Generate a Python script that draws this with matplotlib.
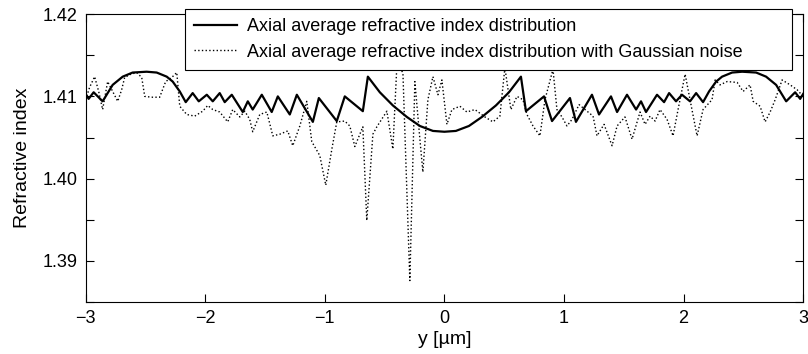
import matplotlib
matplotlib.use("Agg")
import matplotlib.pyplot as plt
from matplotlib.ticker import MultipleLocator, FormatStrFormatter

# Axial average refractive index (solid)
y_clean = [-3.000, -2.975, -2.933, -2.858, -2.774, -2.690, -2.607, -2.490, -2.406,
           -2.322, -2.272, -2.213, -2.163, -2.105, -2.054, -1.987, -1.937, -1.879,
           -1.837, -1.778, -1.686, -1.644, -1.603, -1.527, -1.444, -1.393, -1.293,
           -1.234, -1.100, -1.050, -0.900, -0.833, -0.682, -0.640, -0.540, -0.431,
           -0.314, -0.205, -0.096, 0.000, 0.096, 0.205, 0.314, 0.431, 0.540, 0.640,
           0.682, 0.833, 0.900, 1.050, 1.100, 1.234, 1.293, 1.393, 1.444, 1.527,
           1.603, 1.644, 1.686, 1.778, 1.837, 1.879, 1.937, 1.987, 2.054, 2.105,
           2.163, 2.213, 2.272, 2.322, 2.406, 2.490, 2.607, 2.690, 2.774, 2.858,
           2.933, 2.975, 3.000]
n_clean = [1.4103, 1.4097, 1.4105, 1.4094, 1.4114, 1.4124, 1.4129, 1.4130, 1.4129,
           1.4124, 1.4118, 1.4106, 1.4093, 1.4104, 1.4094, 1.4102, 1.4094, 1.4104,
           1.4093, 1.4102, 1.4081, 1.4094, 1.4084, 1.4102, 1.4081, 1.4100, 1.4078,
           1.4102, 1.4069, 1.4098, 1.4070, 1.4100, 1.4082, 1.4124, 1.4105, 1.4089,
           1.4075, 1.4064, 1.4058, 1.4057, 1.4058, 1.4064, 1.4075, 1.4089, 1.4105, 1.4124,
           1.4082, 1.4100, 1.4070, 1.4098, 1.4069, 1.4102, 1.4078, 1.4100, 1.4081, 1.4102,
           1.4084, 1.4094, 1.4081, 1.4102, 1.4093, 1.4104, 1.4094, 1.4102, 1.4094, 1.4104,
           1.4093, 1.4106, 1.4118, 1.4124, 1.4129, 1.4130, 1.4129, 1.4124, 1.4114, 1.4094,
           1.4105, 1.4097, 1.4103]

# Same profile with Gaussian noise (dotted)
y_noisy = [-3.000, -2.967, -2.925, -2.891, -2.858, -2.816, -2.774, -2.732, -2.699,
           -2.674, -2.623, -2.573, -2.531, -2.506, -2.448, -2.381, -2.331, -2.280,
           -2.238, -2.213, -2.155, -2.088, -2.021, -1.979, -1.937, -1.879, -1.812,
           -1.770, -1.711, -1.669, -1.628, -1.603, -1.544, -1.485, -1.435, -1.377,
           -1.310, -1.268, -1.209, -1.151, -1.109, -1.042, -0.992, -0.941, -0.900,
           -0.833, -0.791, -0.749, -0.682, -0.649, -0.598, -0.565, -0.481, -0.431,
           -0.397, -0.347, -0.289, -0.247, -0.205, -0.180, -0.138, -0.096, -0.054,
           -0.021, 0.021, 0.063, 0.130, 0.188, 0.255, 0.339, 0.406, 0.464, 0.506,
           0.556, 0.607, 0.657, 0.690, 0.741, 0.799, 0.841, 0.908, 0.941, 0.983,
           1.025, 1.067, 1.126, 1.176, 1.243, 1.276, 1.335, 1.402, 1.444, 1.510,
           1.569, 1.636, 1.678, 1.720, 1.762, 1.803, 1.862, 1.912, 1.954, 2.013,
           2.054, 2.113, 2.163, 2.238, 2.264, 2.305, 2.364, 2.448, 2.498, 2.556,
           2.582, 2.640, 2.682, 2.724, 2.766, 2.824, 2.891, 2.950, 3.000]
n_noisy = [1.4096, 1.4111, 1.4124, 1.4106, 1.4084, 1.4118, 1.4106, 1.4094, 1.4108,
           1.4123, 1.4127, 1.4129, 1.4123, 1.4100, 1.4099, 1.4099, 1.4118, 1.4123,
           1.4129, 1.4088, 1.4078, 1.4076, 1.4082, 1.4089, 1.4084, 1.4081, 1.4069,
           1.4084, 1.4075, 1.4082, 1.4072, 1.4057, 1.4078, 1.4081, 1.4052, 1.4054,
           1.4058, 1.4040, 1.4064, 1.4094, 1.4045, 1.4028, 1.3992, 1.4036, 1.4069,
           1.4070, 1.4064, 1.4039, 1.4063, 1.3949, 1.4054, 1.4063, 1.4082, 1.4036,
           1.4139, 1.4129, 1.3876, 1.4118, 1.4048, 1.4008, 1.4096, 1.4124, 1.4102,
           1.4120, 1.4066, 1.4084, 1.4088, 1.4081, 1.4084, 1.4075, 1.4069, 1.4076, 1.4135,
           1.4084, 1.4100, 1.4096, 1.4078, 1.4064, 1.4052, 1.4096, 1.4133, 1.4084, 1.4075,
           1.4064, 1.4072, 1.4090, 1.4084, 1.4076, 1.4052, 1.4066, 1.4040, 1.4064, 1.4075,
           1.4048, 1.4081, 1.4066, 1.4076, 1.4070, 1.4084, 1.4072, 1.4052, 1.4084, 1.4127,
           1.4096, 1.4052, 1.4084, 1.4096, 1.4120, 1.4114, 1.4118, 1.4117, 1.4106, 1.4114,
           1.4094, 1.4088, 1.4069, 1.4081, 1.4096, 1.4120, 1.4114, 1.4108, 1.4100]

plt.rcParams['font.family'] = ['Liberation Sans', 'DejaVu Sans']

fig = plt.figure(figsize=(8.08, 3.54), dpi=100)
ax = fig.add_axes([0.106, 0.147, 0.888, 0.813])

ax.plot(y_clean, n_clean, color='black', linewidth=1.6, linestyle='-',
        label='Axial average refractive index distribution')
ax.plot(y_noisy, n_noisy, color='black', linewidth=1.0, linestyle=':',
        label='Axial average refractive index distribution with Gaussian noise')

ax.set_xlim(-3, 3)
ax.set_ylim(1.385, 1.42)
ax.xaxis.set_major_locator(MultipleLocator(1))
ax.yaxis.set_major_locator(MultipleLocator(0.01))
ax.yaxis.set_minor_locator(MultipleLocator(0.005))
ax.yaxis.set_major_formatter(FormatStrFormatter('%.2f'))
ax.tick_params(which='both', direction='in', length=6, width=0.8,
               top=True, right=True, labelsize=13, pad=6)
for s in ax.spines.values():
    s.set_linewidth(0.8)

ax.set_xlabel('y [\u00b5m]', fontsize=14, labelpad=3)
ax.set_ylabel('Refractive index', fontsize=14, labelpad=8)

# legend box stretched to the reference width, text stays left-aligned
leg = ax.legend(loc='upper left', bbox_to_anchor=(0.138, 0.80, 0.847, 0.218),
                mode='expand', fontsize=13, frameon=True, fancybox=False,
                framealpha=1, edgecolor='black', handlelength=2.4,
                handletextpad=0.55, borderaxespad=0, labelspacing=0.46,
                borderpad=0.52)
leg.get_frame().set_linewidth(0.8)

fig.savefig('out.png', dpi=100)
